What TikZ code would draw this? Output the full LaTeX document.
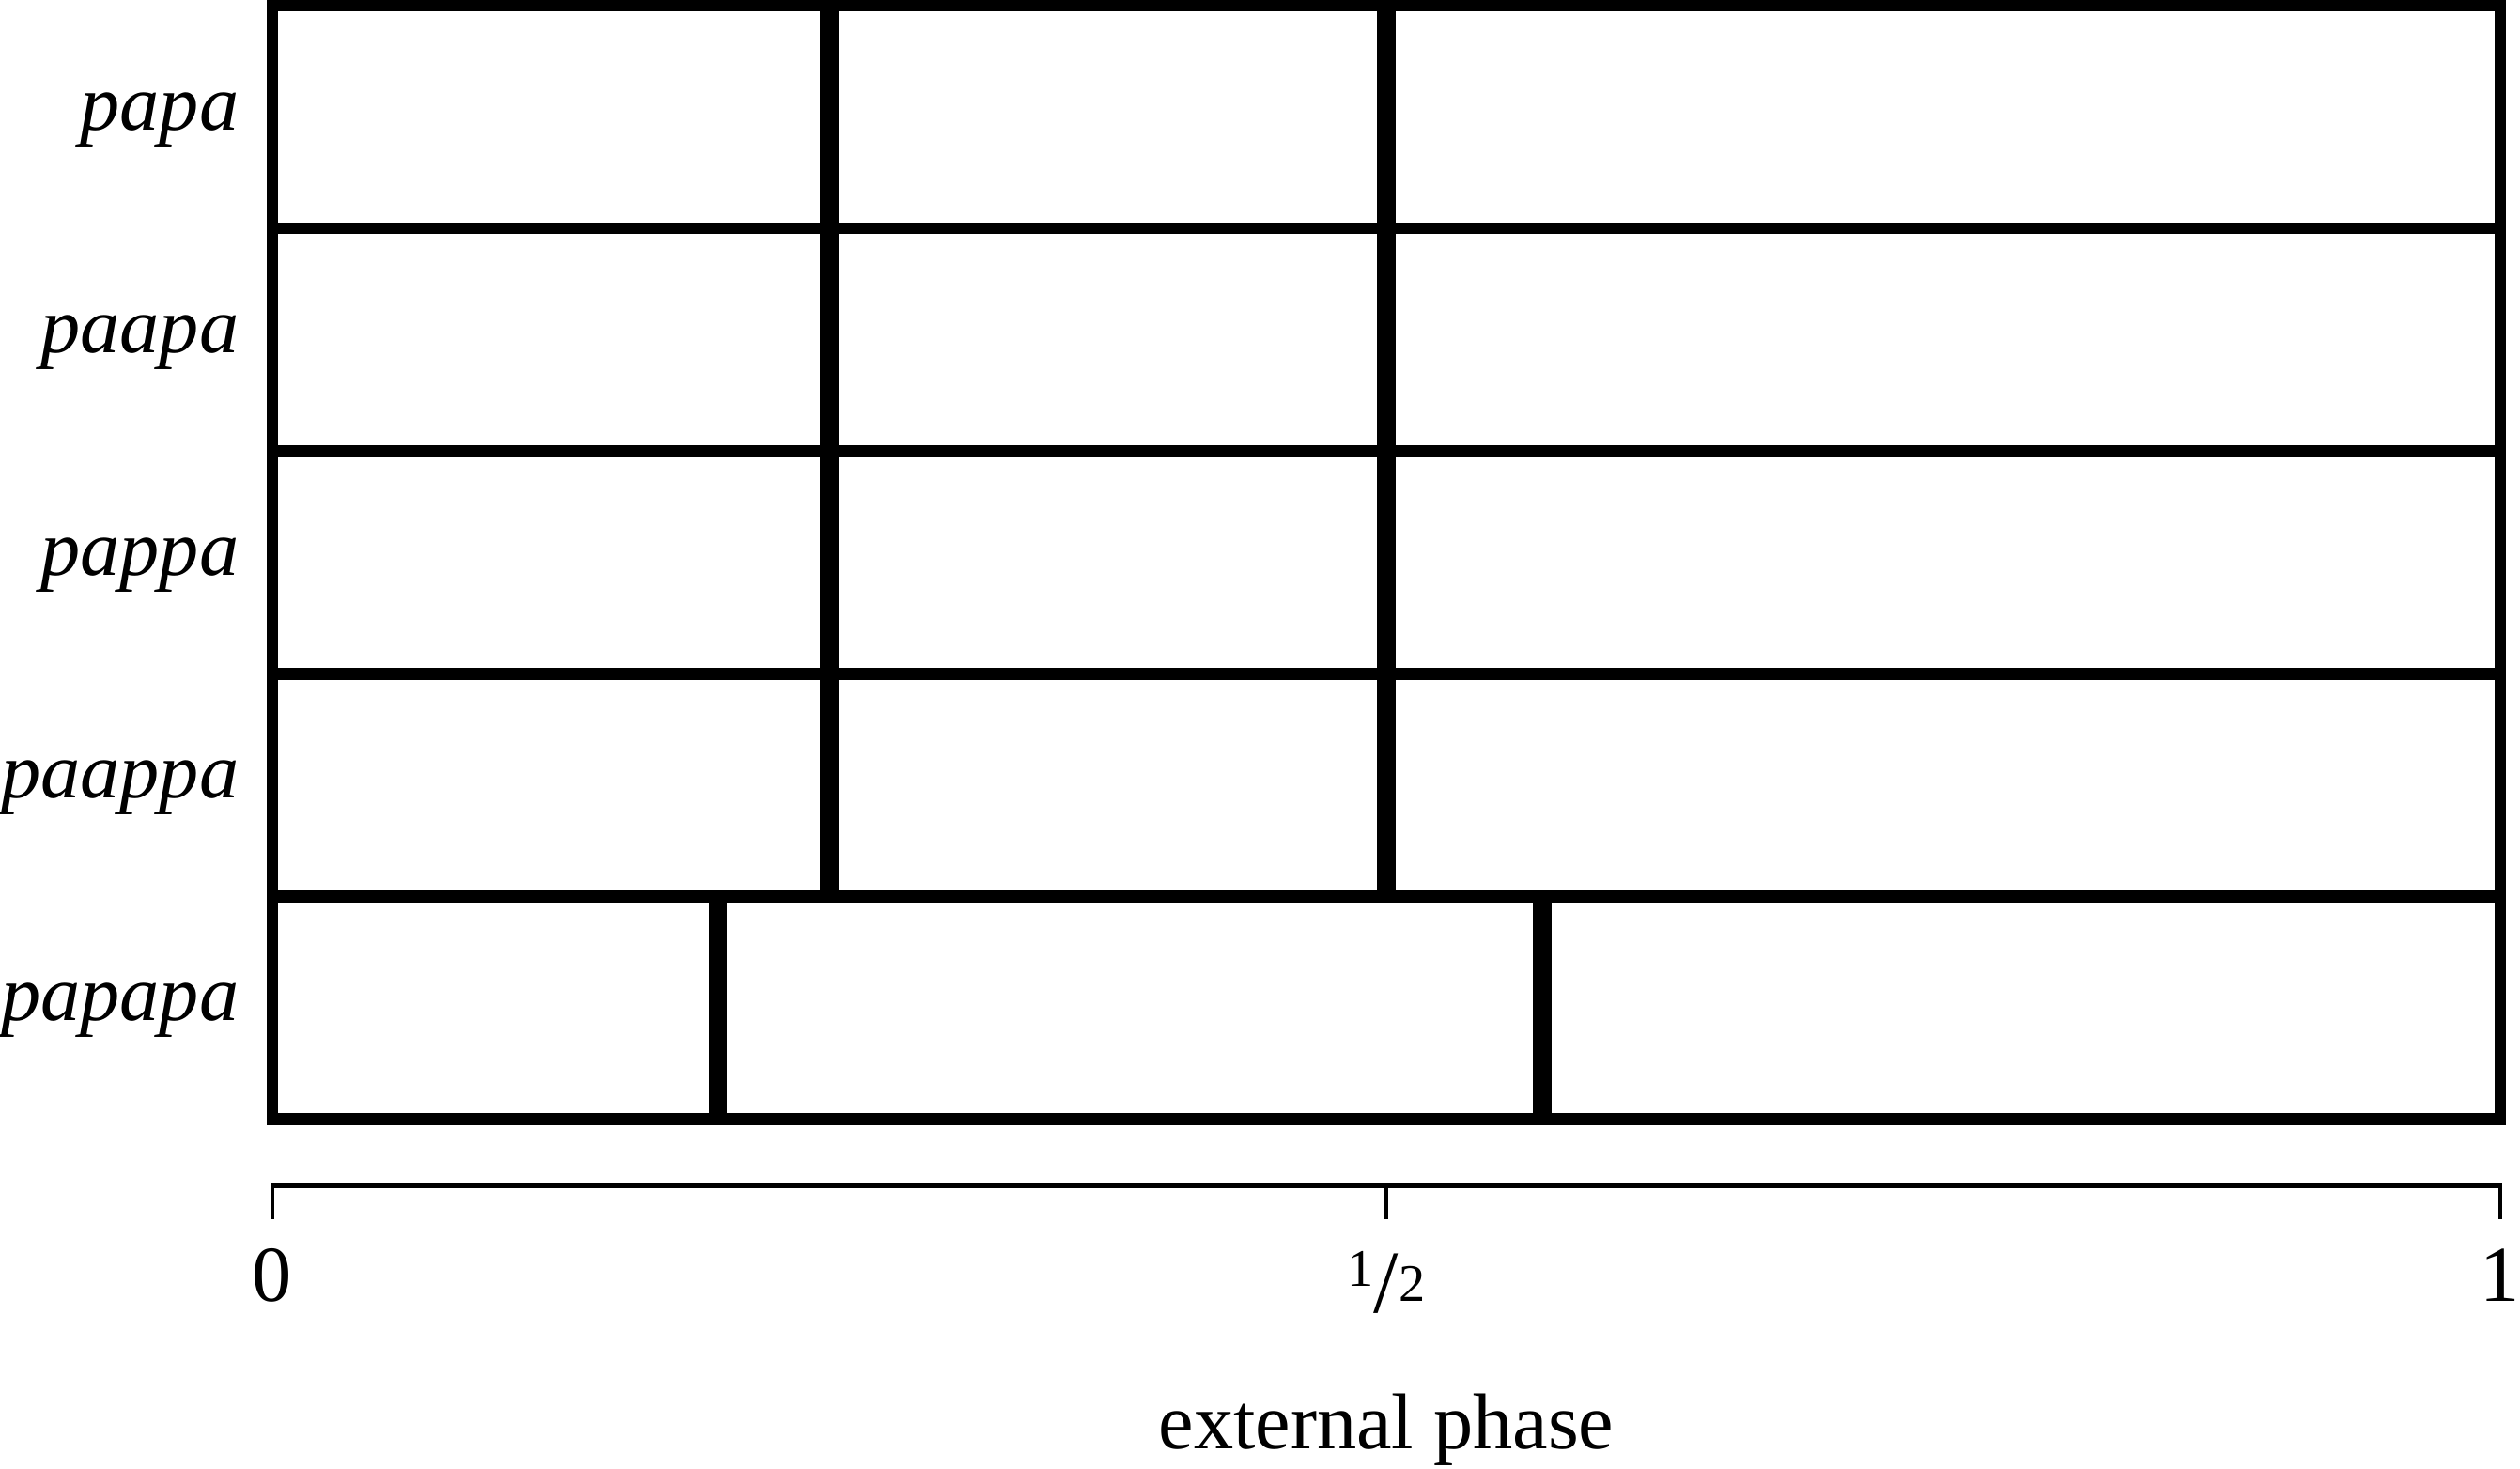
\documentclass[tikz,border=0pt]{standalone}
\usepackage{fontspec}
\setmainfont{Liberation Serif}
\newcommand{\halfmark}{\raisebox{0.16cm}{\fontsize{16}{16}\selectfont 1}\raisebox{-0.12cm}{\fontsize{27}{27}\selectfont /}{\fontsize{16}{16}\selectfont 2}}
\begin{document}
\begin{tikzpicture}[x=23.72cm,y=2.371cm,
	txt/.style={font=\fontsize{24}{28}\selectfont,inner sep=0pt},
	rim/.style={line width=3.6pt},
	wall/.style={line width=5.5pt},
	axis/.style={line width=1.4pt}]
	\useasboundingbox (-2.90cm,-3.725cm) rectangle ++(26.83cm,15.64cm);
	\foreach \y in {1,2,3,4} \draw[rim] (0,\y) -- (1,\y);
	\foreach \x in {0.25,0.5} \draw[wall] (\x,1) -- (\x,5);
	\foreach \x in {0.2,0.57} \draw[wall] (\x,0) -- (\x,1);
	\draw[rim] (0,0) rectangle (1,5);
	\foreach \w [count=\i] in {papa,paapa,pappa,paappa,papapa}
		\node[txt,anchor=base east,xshift=-0.35cm,yshift=-0.14cm] (row\i) at (0,5.5-\i) {\textit{\w}};
	\draw[axis] (0,-0.45) -- (0,-0.3) -- (1,-0.3) -- (1,-0.45);
	\draw[axis] (0.5,-0.3) -- (0.5,-0.45);
	\node[txt,anchor=base] (zero) at (0,-0.82) {0};
	\node[txt,anchor=base] (half) at (0.5,-0.82) {\halfmark};
	\node[txt,anchor=base] (one) at (1,-0.82) {1};
	\node[txt,anchor=base] (xlabel) at (0.5,-1.48) {external phase};
\end{tikzpicture}
\end{document}
